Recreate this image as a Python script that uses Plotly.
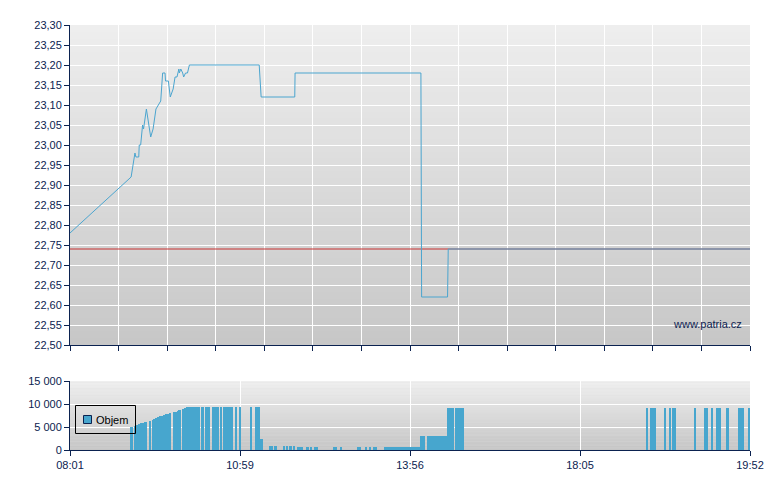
import numpy as np
import plotly.graph_objects as go

# ---------------- data ----------------
tick_times = ["08:01", "10:59", "13:56", "18:05", "19:52"]
session = ["08:01", "19:52"]

price_times = ["08:01", "09:05", "09:09", "09:10", "09:13", "09:13:30", "09:15", "09:17", "09:18",
               "09:21", "09:25:30", "09:28", "09:31", "09:33:30", "09:36", "09:38", "09:40:30",
               "09:41", "09:44", "09:46", "09:49", "09:51", "09:53", "09:55", "09:55:30", "09:57",
               "09:59", "10:00", "10:02", "10:04", "10:06", "11:19", "11:21", "11:56", "11:56:20",
               "14:12", "14:13", "14:51", "14:52", "19:52"]
price_values = [22.78, 22.92, 22.98, 22.97, 22.97, 23.00, 23.00, 23.05, 23.04,
                23.09, 23.02, 23.04, 23.09, 23.10, 23.11, 23.18, 23.18,
                23.16, 23.16, 23.12, 23.14, 23.17, 23.17, 23.19, 23.18, 23.19,
                23.18, 23.17, 23.18, 23.18, 23.20, 23.20, 23.12, 23.12, 23.18,
                23.18, 22.62, 22.62, 22.74, 22.74]
prev_close = 22.74

vol_start = ["09:03:48", "09:08:00", "09:10:06", "09:12:12", "09:14:18", "09:16:24", "09:18:30",
             "09:23:42", "09:26:30", "09:28:12", "09:30:18", "09:32:24", "09:34:30", "09:36:36",
             "09:38:42", "09:40:48", "09:42:54", "09:45:00", "09:48:48", "09:50:54", "09:53:00",
             "09:54:36", "09:58:36", "10:00:24", "10:02:30", "10:03:48", "10:18:12", "10:22:24",
             "10:29:42", "10:38:06", "10:41:12", "10:53:24", "10:58:00", "11:09:06", "11:14:36",
             "11:19:48", "11:29:12", "11:34:24", "11:43:48", "11:46:54", "11:50:00", "11:54:12",
             "11:58:18", "12:07:42", "12:11:54", "12:16:00", "12:35:48", "12:43:06", "13:00:48",
             "13:09:06", "13:13:18", "13:17:30", "13:29:12", "14:10:36", "14:20:54", "14:50:12",
             "15:01:54", "18:46:30", "18:49:06", "18:57:54", "19:01:00", "19:02:54", "19:16:48",
             "19:23:00", "19:27:30", "19:30:36", "19:36:54", "19:44:24", "19:50:42"]
vol_end = ["09:06:42", "09:10:06", "09:12:12", "09:14:18", "09:16:24", "09:18:30", "09:21:36",
           "09:25:30", "09:28:12", "09:30:18", "09:32:24", "09:34:30", "09:36:36", "09:38:42",
           "09:40:48", "09:42:54", "09:45:00", "09:46:48", "09:50:54", "09:53:00", "09:54:36",
           "09:57:12", "10:00:24", "10:02:30", "10:03:48", "10:16:42", "10:21:00", "10:27:36",
           "10:37:18", "10:40:30", "10:51:24", "10:56:12", "11:00:00", "11:11:12", "11:19:48",
           "11:22:36", "11:33:00", "11:37:12", "11:45:54", "11:49:00", "11:53:06", "11:56:18",
           "12:04:18", "12:10:48", "12:14:00", "12:20:12", "12:40:00", "12:45:12", "13:05:00",
           "13:11:12", "13:15:24", "13:21:36", "14:10:36", "14:18:00", "14:50:12", "15:00:24",
           "15:15:06", "18:47:48", "18:52:48", "18:59:06", "19:02:18", "19:05:24", "19:18:00",
           "19:25:36", "19:28:42", "19:33:42", "19:38:48", "19:48:12", "19:52:00"]
vol_values = [5000, 5200, 5450, 5650, 5800, 5950, 6000,
              6300, 6600, 6750, 6950, 7100, 7300, 7450,
              7600, 7750, 7900, 8050, 8250, 8350, 8550,
              8700, 9000, 9150, 9280, 9350, 9350, 9350,
              9350, 9350, 9350, 9350, 9350, 9350, 9350,
              2400, 870, 870, 870, 870, 870, 870,
              650, 650, 650, 650, 650, 650, 650,
              650, 650, 620, 600, 3050, 3050, 9150,
              9150, 9150, 9150, 9150, 9150, 9150, 9150,
              9150, 9150, 9150, 9150, 9150, 9150]

# ---------------- scale (piecewise time axis) ----------------
def to_min(s):
    p = [int(v) for v in s.split(":")]
    return p[0] * 60 + p[1] + (p[2] / 60 if len(p) > 2 else 0)

anchor_min = [to_min(t) for t in tick_times]
anchor_pos = [0, 3.5, 7, 10.5, 14]

def pos(times):
    return np.interp([to_min(t) for t in times], anchor_min, anchor_pos)

NAVY = "#0b2250"
BLUE = "#47a6ce"
LINE_BLUE = "#4ba5cf"
FONT = "Liberation Sans, Arial, sans-serif"

fig = go.Figure()

# reference line (previous close)
fig.add_trace(go.Scatter(x=pos(session), y=[prev_close, prev_close], mode="lines",
                         line=dict(color="#c83232", width=1), xaxis="x", yaxis="y",
                         hoverinfo="skip", showlegend=False))
# price
fig.add_trace(go.Scatter(x=pos(price_times), y=price_values, mode="lines",
                         line=dict(color=LINE_BLUE, width=1), xaxis="x", yaxis="y",
                         showlegend=False))
# volume
xs, xe = pos(vol_start), pos(vol_end)
fig.add_trace(go.Bar(x=(xs + xe) / 2, y=vol_values, width=xe - xs, base=0,
                     marker=dict(color=BLUE, line=dict(width=0)), xaxis="x2", yaxis="y2",
                     name="Objem", showlegend=False))

top_dom = [105 / 425, 1]
bot_dom = [0, 69 / 425]

# gradient backgrounds
shapes = []
N = 48
def grad(xref, yref, c_top, c_bot):
    out = []
    for i in range(N):
        f = (i + 0.5) / N
        c = int(round(c_top + (c_bot - c_top) * f))
        out.append(dict(type="rect", xref=xref, yref=yref, x0=0, x1=1,
                        y0=1 - (i + 1) / N - 0.002, y1=1 - i / N,
                        fillcolor=f"rgb({c},{c},{c})", line=dict(width=0), layer="below"))
    return out
shapes += grad("x domain", "y domain", 238, 199)
shapes += grad("x2 domain", "y2 domain", 239, 197)

# manual legend
def px_x(p): return (p - 70) / 680
def px_y(p): return (450 - p) / 425
shapes.append(dict(type="rect", xref="paper", yref="paper", x0=px_x(75.5), x1=px_x(135.5),
                   y0=px_y(433.5), y1=px_y(405.5), line=dict(color="black", width=1),
                   fillcolor="rgba(0,0,0,0)", layer="above"))
shapes.append(dict(type="rect", xref="paper", yref="paper", x0=px_x(83.5), x1=px_x(91.5),
                   y0=px_y(423.5), y1=px_y(415.5), line=dict(color=NAVY, width=1),
                   fillcolor=BLUE, layer="above"))

annotations = [
    dict(text="Objem", xref="paper", yref="paper", x=px_x(94), y=px_y(419.5),
         xanchor="left", yanchor="middle", showarrow=False,
         font=dict(family=FONT, size=11, color="#000000")),
    dict(text="www.patria.cz", xref="paper", yref="paper", x=px_x(743.5), y=px_y(323.5),
         xanchor="right", yanchor="middle", showarrow=False,
         font=dict(family=FONT, size=11, color=NAVY)),
]

axis_common = dict(showline=True, linecolor=NAVY, linewidth=1, ticks="outside", ticklen=5,
                   tickcolor=NAVY, tickwidth=1, showgrid=True, gridcolor="white", gridwidth=1,
                   zeroline=False, fixedrange=True,
                   tickfont=dict(family=FONT, size=11, color=NAVY))

fig.update_layout(
    width=780, height=490,
    margin=dict(l=70, r=30, t=25, b=40),
    paper_bgcolor="white", plot_bgcolor="#dddddd",
    separators=", ",
    showlegend=False,
    bargap=0,
    hovermode=False,
    shapes=shapes,
    annotations=annotations,
    xaxis=dict(domain=[0, 1], anchor="y", range=[0, 14], tick0=0, dtick=1,
               showticklabels=False, **axis_common),
    yaxis=dict(domain=top_dom, anchor="x", range=[22.5, 23.3], tick0=22.5, dtick=0.05,
               tickformat=".2f", **axis_common),
    xaxis2=dict(domain=[0, 1], anchor="y2", range=[0, 14], tickmode="array",
                tickvals=anchor_pos, ticktext=tick_times, **axis_common),
    yaxis2=dict(domain=bot_dom, anchor="x2", range=[0, 15000], tick0=0, dtick=5000,
                tickformat=",d", **axis_common),
)

fig.write_html("out.html", config={"displayModeBar": False, "staticPlot": True},
               post_script="document.body.style.margin='0';document.body.style.padding='0';")
